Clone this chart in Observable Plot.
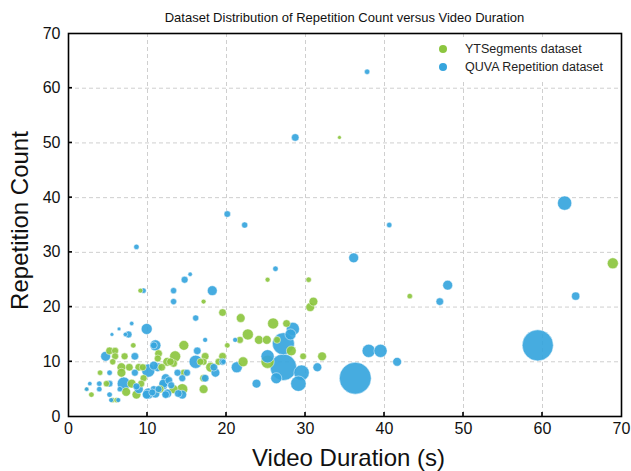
<!DOCTYPE html>
<html>
<head>
<meta charset="utf-8">
<script src="https://cdn.jsdelivr.net/npm/d3@7"></script>
<script src="https://cdn.jsdelivr.net/npm/@observablehq/plot@0.6"></script>
<style>
  html, body { margin: 0; padding: 0; background: #fff; }
  #wrap { position: relative; width: 631px; height: 471px; font-family: "Liberation Sans", Arial, sans-serif; }
  #legend { position: absolute; left: 430px; top: 38px; width: 186px; height: 42px; background: #fff; font-size: 12.5px; color: #222; }
  #legend .row { position: absolute; left: 9px; height: 18px; line-height: 18px; white-space: nowrap; }
  #legend .dot { display: inline-block; width: 8px; height: 8px; border-radius: 50%; vertical-align: middle; margin-right: 18px; position: relative; top: -1px; }
</style>
</head>
<body>
<div id="wrap"></div>
<script>
// ---- data ----
const title = "Dataset Distribution of Repetition Count versus Video Duration";
const xLabel = "Video Duration (s)";
const yLabel = "Repetition Count";
const seriesNames = ["YTSegments dataset", "QUVA Repetition dataset"];
const xTicks = [0, 10, 20, 30, 40, 50, 60, 70];
const yTicks = [0, 10, 20, 30, 40, 50, 60, 70];

// YTSegments: duration (s), count, bubble weight
const ytDuration = [9.1,17.1,19.5,21.8,25.9,27.6,22.7,24.1,25.1,21.7,20.1,26.4,25.2,22.1,28.2,29.7,32.1,30.6,31,30.4,25.2,17.1,18,17.1,19.5,19,11.4,11.3,14.6,13.5,12.5,13.3,17.3,14.6,13.3,17.1,8.2,5.2,5.9,5.9,7.1,6.7,7.7,8.9,6.7,9.5,4.8,8.0,9.2,2.9,7.3,8.6,5.6,6.1,2.3,11.6,14.4,34.3,43.2,68.9,4.0,5.6,16.7,12.9,9.4,11.8];
const ytCount    = [23,21,19,18,17,17,15,14,14,14,13,14,10,10,12,11,11,20,21,25,25,5,9,10,11,10,11.5,10.6,13,11,10,9.7,11,8,5,7,13,12,12,11,11,9,9,9,8,7,6,6,6,4,4.5,4,3,3,5,5,5,51,22,28,8,10,10,10,9,9];
const ytWeight   = [5,5,12,16,25,12,25,16,16,10,6,10,36,20,20,9,16,16,16,6,5,16,20,10,12,10,12,10,20,25,16,12,12,10,16,12,6,12,10,10,10,16,12,12,16,10,8,16,10,6,16,16,6,6,4,12,25,3,6,25,6,8,10,12,10,12];

// QUVA Repetition: duration (s), count, bubble weight
const quvaDuration = [37.8,28.7,62.8,20.1,22.3,40.6,8.6,36.1,26.2,48,47,64.2,18.2,15.4,14.7,9.5,13.3,13.3,16.1,9.9,8,6.4,5.5,7.6,7.2,59.4,36.3,38,39.5,41.6,28.4,28.1,27.2,25.2,27.2,26.3,29.5,29.1,31.5,23.8,21.3,21.1,17.3,17.3,18.6,19.6,11,10.8,16.3,4.7,8.4,16.1,19.5,18.4,5.2,8.4,10.1,11.3,10.8,12.3,13.8,15,14.4,2.7,3.9,5.2,7.0,8.6,2.3,3.9,5.2,6.5,9.9,10.8,5.4,6.3,10.1,11,12.5,12.7,12,13.9,11.4,12.3,14.4,8.9,10.6,12,13];
const quvaCount    = [63,51,39,37,35,35,31,29,27,24,21,22,23,26,25,23,23,21,18,16,17,16,15,15,15,13,7,12,12,10,16,15,13.3,11,9,7,8,6,9,6,9,14,14,7,8,10,13,13,12,11,11,10,10,9,8,8,8.4,9,9.3,7,8,8,7,6,6,6,6,5.5,5,5,4,5,4,5,3,3,4.2,4.2,4.2,6.6,5.7,4.2,5,4,4,5,4.4,6,5.7];
const quvaWeight   = [6,12,42,9,8,6,6,20,6,20,12,14,20,4,10,6,8,8,8,25,4,3,3,10,4,200,210,36,36,16,36,25,100,36,144,25,49,49,16,16,25,5,5,12,16,6,25,10,12,20,12,36,10,12,6,10,36,16,16,16,10,10,10,4,6,9,36,10,4,6,6,6,16,10,5,5,25,16,16,12,16,12,10,12,16,16,10,16,10];

const colors = ["#8cc63f", "#36a5dd"];

// ---- build table ----
const rows = [];
ytDuration.forEach((d, i) => rows.push({series: seriesNames[0], duration: d, count: ytCount[i], weight: ytWeight[i]}));
quvaDuration.forEach((d, i) => rows.push({series: seriesNames[1], duration: d, count: quvaCount[i], weight: quvaWeight[i]}));

const W = 631, H = 471;
const mL = 68, mR = 10, mT = 33, mB = 55;

const plot = Plot.plot({
  width: W,
  height: H,
  marginLeft: mL,
  marginRight: mR,
  marginTop: mT,
  marginBottom: mB,
  style: {fontFamily: "'Liberation Sans', Arial, sans-serif", background: "#fff"},
  x: {domain: [0, 70], label: null},
  y: {domain: [0, 70], label: null},
  r: {type: "sqrt", domain: [0, 100], range: [0, 11]},
  color: {domain: seriesNames, range: colors},
  marks: [
    Plot.gridX(xTicks.slice(1, -1), {stroke: "#cfcfcf", strokeOpacity: 1, strokeDasharray: "4,3", strokeWidth: 1}),
    Plot.gridY(yTicks.slice(1, -1), {stroke: "#cfcfcf", strokeOpacity: 1, strokeDasharray: "4,3", strokeWidth: 1}),
    Plot.dot(rows, {x: "duration", y: "count", r: "weight", fill: "series", fillOpacity: 0.92, stroke: "white", strokeWidth: 0.6, strokeOpacity: 0.8}),
    Plot.axisX(xTicks, {tickSize: 0, tickPadding: 6, fontSize: 16, fill: "#111"}),
    Plot.axisY(yTicks, {tickSize: 0, tickPadding: 8, fontSize: 16, fill: "#111"}),
    Plot.frame({stroke: "#000", strokeWidth: 1.6})
  ]
});

const svg = d3.select(plot);
const xs = plot.scale("x"), ys = plot.scale("y");
// inward ticks
const tg = svg.append("g").attr("stroke", "#000").attr("stroke-width", 1.6);
xTicks.slice(1, -1).forEach(v => {
  const px = xs.apply(v);
  tg.append("line").attr("x1", px).attr("x2", px).attr("y1", H - mB).attr("y2", H - mB - 4);
});
yTicks.slice(1, -1).forEach(v => {
  const py = ys.apply(v);
  tg.append("line").attr("x1", mL).attr("x2", mL + 4).attr("y1", py).attr("y2", py);
});
// title & axis labels
svg.append("text").attr("x", (mL + W - mR) / 2).attr("y", 22).attr("text-anchor", "middle")
  .attr("font-size", 13).attr("fill", "#111").text(title);
svg.append("text").attr("x", (mL + W - mR) / 2 + 4).attr("y", 466).attr("text-anchor", "middle")
  .attr("font-size", 24).attr("fill", "#111").text(xLabel);
svg.append("text").attr("transform", `translate(28,${(mT + H - mB) / 2 - 4}) rotate(-90)`).attr("text-anchor", "middle")
  .attr("font-size", 24).attr("fill", "#111").text(yLabel);

const wrap = document.getElementById("wrap");
wrap.appendChild(plot);

// legend
const legend = document.createElement("div");
legend.id = "legend";
seriesNames.forEach((name, i) => {
  const row = document.createElement("div");
  row.className = "row";
  row.style.top = (2 + i * 18) + "px";
  const dot = document.createElement("span");
  dot.className = "dot";
  dot.style.background = colors[i];
  row.appendChild(dot);
  row.appendChild(document.createTextNode(name));
  legend.appendChild(row);
});
wrap.appendChild(legend);
</script>
</body>
</html>
